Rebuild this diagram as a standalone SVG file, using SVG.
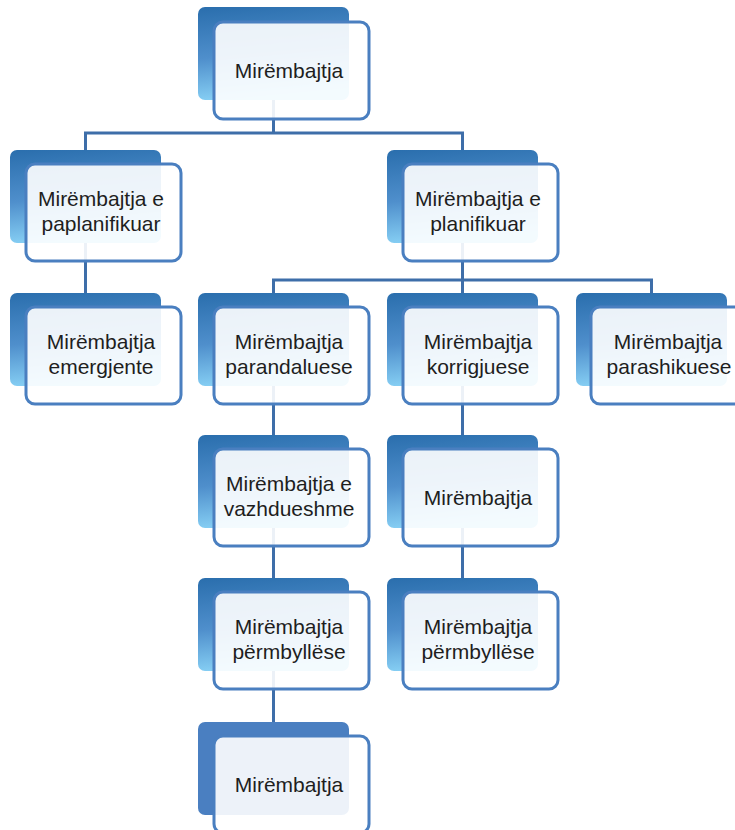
<svg xmlns="http://www.w3.org/2000/svg" width="735" height="830" viewBox="0 0 735 830">
<defs>
<linearGradient id="bg" x1="0" y1="0" x2="0.15" y2="1">
<stop offset="0" stop-color="#2a6ead"/>
<stop offset="0.55" stop-color="#4f8fcc"/>
<stop offset="1" stop-color="#86cff4"/>
</linearGradient>
</defs>
<style>
.back{fill:url(#bg);}
.backs{fill:#4a7fc1;}
.front{fill:#ffffff;fill-opacity:0.9;stroke:#4a7fc0;stroke-width:3;}
.t{font-family:"Liberation Sans",Arial,sans-serif;font-size:21px;fill:#1e1e1e;text-anchor:middle;}
.c{fill:none;stroke:#3e6ea9;stroke-width:3;}
</style>
<rect width="735" height="830" fill="#ffffff"/>
<g id="connectors">
<path class="c" d="M273.5,100 V133 M85.5,150 V133 H462.5 V150"/>
<path class="c" d="M462.5,243 V280 M273.5,293 V280 H651.5 V293 M462.5,280 V293"/>
<path class="c" d="M85.5,243 V293"/>
<path class="c" d="M273.5,386 V435 M273.5,528 V578 M273.5,671 V722"/>
<path class="c" d="M462.5,386 V435 M462.5,528 V578"/>
</g>
<g id="n-root">
<rect class="back" x="198" y="7" width="151" height="93" rx="7"/>
<rect class="front" x="214" y="22" width="155" height="97" rx="9"/>
<text class="t" x="289" y="78">Mirëmbajtja</text>
</g>
<g id="n-paplan">
<rect class="back" x="10" y="150" width="151" height="93" rx="7"/>
<rect class="front" x="26" y="164" width="155" height="97" rx="9"/>
<text class="t" x="101" y="206">Mirëmbajtja e</text>
<text class="t" x="101" y="231">paplanifikuar</text>
</g>
<g id="n-plan">
<rect class="back" x="387" y="150" width="151" height="93" rx="7"/>
<rect class="front" x="403" y="164" width="155" height="97" rx="9"/>
<text class="t" x="478" y="206">Mirëmbajtja e</text>
<text class="t" x="478" y="231">planifikuar</text>
</g>
<g id="n-emerg">
<rect class="back" x="10" y="293" width="151" height="93" rx="7"/>
<rect class="front" x="26" y="307" width="155" height="97" rx="9"/>
<text class="t" x="101" y="349">Mirëmbajtja</text>
<text class="t" x="101" y="374">emergjente</text>
</g>
<g id="n-parand">
<rect class="back" x="198" y="293" width="151" height="93" rx="7"/>
<rect class="front" x="214" y="307" width="155" height="97" rx="9"/>
<text class="t" x="289" y="349">Mirëmbajtja</text>
<text class="t" x="289" y="374">parandaluese</text>
</g>
<g id="n-korr">
<rect class="back" x="387" y="293" width="151" height="93" rx="7"/>
<rect class="front" x="403" y="307" width="155" height="97" rx="9"/>
<text class="t" x="478" y="349">Mirëmbajtja</text>
<text class="t" x="478" y="374">korrigjuese</text>
</g>
<g id="n-parash">
<rect class="back" x="576" y="293" width="151" height="93" rx="7"/>
<rect class="front" x="591" y="307" width="155" height="97" rx="9"/>
<text class="t" x="668" y="349">Mirëmbajtja</text>
<text class="t" x="669" y="374">parashikuese</text>
</g>
<g id="n-vazhd">
<rect class="back" x="198" y="435" width="151" height="93" rx="7"/>
<rect class="front" x="214" y="449" width="155" height="97" rx="9"/>
<text class="t" x="289" y="491">Mirëmbajtja e</text>
<text class="t" x="289" y="516">vazhdueshme</text>
</g>
<g id="n-korr2">
<rect class="back" x="387" y="435" width="151" height="93" rx="7"/>
<rect class="front" x="403" y="449" width="155" height="97" rx="9"/>
<text class="t" x="478" y="505">Mirëmbajtja</text>
</g>
<g id="n-perm1">
<rect class="back" x="198" y="578" width="151" height="93" rx="7"/>
<rect class="front" x="214" y="592" width="155" height="97" rx="9"/>
<text class="t" x="289" y="634">Mirëmbajtja</text>
<text class="t" x="289" y="659">përmbyllëse</text>
</g>
<g id="n-perm2">
<rect class="back" x="387" y="578" width="151" height="93" rx="7"/>
<rect class="front" x="403" y="592" width="155" height="97" rx="9"/>
<text class="t" x="478" y="634">Mirëmbajtja</text>
<text class="t" x="478" y="659">përmbyllëse</text>
</g>
<g id="n-last">
<rect class="backs" x="198" y="722" width="151" height="93" rx="7"/>
<rect class="front" x="214" y="736" width="155" height="97" rx="9"/>
<text class="t" x="289" y="792">Mirëmbajtja</text>
</g>
</svg>
